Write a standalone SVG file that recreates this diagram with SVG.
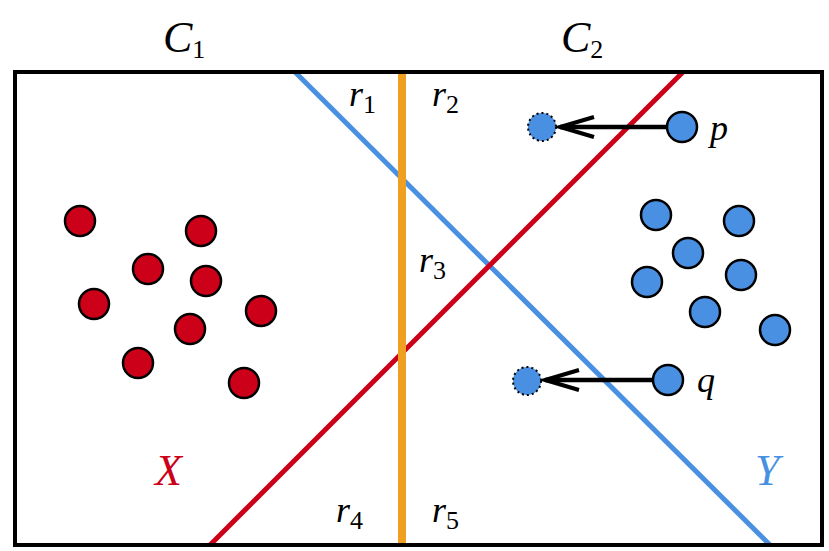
<svg xmlns="http://www.w3.org/2000/svg" width="829" height="551" viewBox="0 0 829 551">
<style>
.r{fill:#cc0018;stroke:#000;stroke-width:2.5}
.b{fill:#4a90e2;stroke:#000;stroke-width:2.5}
.d{fill:#4a90e2;stroke:#000;stroke-width:2;stroke-dasharray:2 3}
text{font-family:"Liberation Serif",serif;font-style:italic;font-size:36px}
.s{font-size:44px}
.sub{font-style:normal;font-size:26px}
.ah{fill:none;stroke:#000;stroke-width:4;stroke-linejoin:miter}
</style>
<rect width="829" height="551" fill="#fff"/>
<g id="lines">
<line x1="295" y1="72" x2="770" y2="545" stroke="#4a90e2" stroke-width="5"/>
<line x1="210" y1="545" x2="683" y2="72" stroke="#cc0018" stroke-width="5"/>
<line x1="402" y1="72" x2="402" y2="545" stroke="#f0a020" stroke-width="8"/>
</g>
<rect id="frame" x="15" y="72" width="807" height="473" fill="none" stroke="#000" stroke-width="4"/>
<g id="red">
<circle class="r" cx="80" cy="221" r="15"/><circle class="r" cx="201" cy="231" r="15"/><circle class="r" cx="148" cy="269" r="15"/><circle class="r" cx="206" cy="281" r="15"/><circle class="r" cx="94" cy="304" r="15"/><circle class="r" cx="261" cy="311" r="15"/><circle class="r" cx="190" cy="329" r="15"/><circle class="r" cx="138" cy="363" r="15"/><circle class="r" cx="244" cy="383" r="15"/>
</g>
<g id="blue">
<circle class="b" cx="656" cy="215" r="15"/><circle class="b" cx="739" cy="221" r="15"/><circle class="b" cx="688" cy="253" r="15"/><circle class="b" cx="741" cy="275" r="15"/><circle class="b" cx="647" cy="282" r="15"/><circle class="b" cx="705" cy="312" r="15"/><circle class="b" cx="775" cy="330" r="15"/>
</g>
<g id="connectors">
<line x1="667" y1="127" x2="560" y2="127" stroke="#000" stroke-width="4.5"/>
<path class="ah" d="M594,117 L560,127 L594,137"/>
<line x1="653" y1="380" x2="545" y2="380" stroke="#000" stroke-width="4.5"/>
<path class="ah" d="M579,370 L545,380 L579,390"/>
</g>
<g id="moved">
<circle class="b" cx="682" cy="127" r="15"/><circle class="d" cx="542" cy="127" r="14"/>
<circle class="b" cx="668" cy="380" r="15"/><circle class="d" cx="527" cy="381" r="14"/>
</g>
<g id="labels">
<text x="163" y="52" class="s">C<tspan class="sub" dy="6">1</tspan></text>
<text x="561" y="52" class="s">C<tspan class="sub" dy="6">2</tspan></text>
<text x="349" y="106">r<tspan class="sub" dy="7">1</tspan></text>
<text x="432" y="106">r<tspan class="sub" dy="7">2</tspan></text>
<text x="419" y="272">r<tspan class="sub" dy="7">3</tspan></text>
<text x="336" y="522">r<tspan class="sub" dy="7">4</tspan></text>
<text x="432" y="522">r<tspan class="sub" dy="7">5</tspan></text>
<text x="710" y="140">p</text>
<text x="697" y="392">q</text>
<text x="155" y="485" class="s" fill="#cc0018">X</text>
<text x="755" y="485" class="s" fill="#4a90e2">Y</text>
</g>
</svg>
